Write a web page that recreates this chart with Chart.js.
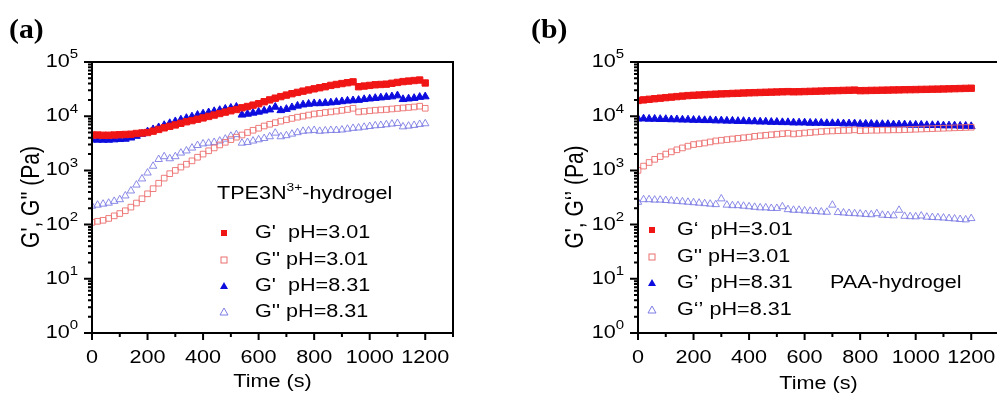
<!DOCTYPE html>
<html lang="en">
<head>
  <meta charset="UTF-8">
  <title>G', G'' vs time</title>
  <script src="https://cdn.jsdelivr.net/npm/chart.js"></script>
  <style>
    body { margin: 0; background: #fff; overflow: hidden; width: 997px; height: 396px; position: relative; }
    .panel { position: absolute; top: 0; height: 396px; }
  </style>
</head>
<body>

<div class="panel" style="left:0;width:470px"><canvas id="chartA"></canvas></div>
<div class="panel" style="left:530px;width:475px"><canvas id="chartB"></canvas></div>

<script>
// time axis (s), shared by every series
const time = [0, 20, 40, 60, 80, 100, 120, 140, 160, 180, 200, 220, 240, 260, 280, 300, 320, 340, 360, 380,
  400, 420, 440, 460, 480, 500, 520, 540, 560, 580, 600, 620, 640, 660, 680, 700, 720, 740, 760, 780,
  800, 820, 840, 860, 880, 900, 920, 940, 960, 980, 1000, 1020, 1040, 1060, 1080, 1100, 1120, 1140, 1160, 1180, 1200];

// (a) TPE3N3+-hydrogel
const aG1_ph3 = [4500, 4500, 4450, 4450, 4500, 4550, 4600, 4650, 4800, 4900, 5000, 5300, 5700, 6100, 6500, 6900, 7400, 7900, 8300, 8800,
  9300, 9900, 10500, 11200, 11900, 12600, 13300, 14300, 15100, 16000, 17000, 18500, 20000, 21500, 23000, 24500, 26000, 27500, 29000, 30500,
  32000, 33500, 35000, 37000, 38500, 40000, 41500, 43000, 35000, 36000, 37000, 38000, 38500, 39000, 40500, 42000, 43500, 44500, 45500, 46500, 41000];
const aG2_ph3 = [110, 115, 120, 130, 145, 160, 180, 210, 250, 300, 370, 460, 580, 720, 870, 1000, 1150, 1300, 1500, 1750,
  2000, 2300, 2600, 2950, 3300, 3700, 4100, 4500, 5000, 5500, 6000, 6600, 7100, 7600, 8100, 8600, 9100, 9600, 10000, 10500,
  11000, 11300, 11700, 12000, 12400, 12800, 13300, 14000, 12000, 12300, 12600, 12900, 13100, 13300, 13600, 13900, 14200, 14500, 14800, 15300, 14000];
const aG1_ph8 = [3700, 3650, 3650, 3650, 3700, 3750, 3800, 4000, 4300, 4700, 5200, 5700, 6200, 6800, 7400, 8000, 8600, 9200, 9800, 10500,
  11100, 11700, 12300, 12900, 13600, 14200, 14800, 10600, 11000, 11500, 12000, 12600, 13200, 14800, 12800, 13500, 14500, 15500, 16300, 16800,
  17200, 17200, 17500, 17800, 18200, 18700, 19200, 19500, 19800, 20500, 21000, 21500, 22000, 22500, 23000, 24000, 20500, 21000, 21500, 22500, 23000];
const aG2_ph8 = [220, 230, 240, 250, 270, 290, 340, 420, 540, 700, 900, 1200, 1600, 1800, 1650, 1800, 2100, 2300, 2600, 2900,
  3100, 3200, 3300, 3500, 3800, 4300, 4600, 3200, 3300, 3500, 3700, 3900, 4200, 4900, 4200, 4400, 4700, 5000, 5300, 5400,
  5500, 5300, 5400, 5500, 5500, 5600, 5800, 6000, 6100, 6300, 6500, 6700, 6800, 7000, 7200, 7400, 6400, 6600, 6800, 7100, 7300];

// (b) PAA-hydrogel
const bG1_ph3 = [19500, 20000, 20500, 21000, 21500, 22000, 22500, 23000, 23500, 24000, 24300, 24600, 24900, 25200, 25500, 25800, 26000, 26300, 26500, 26800,
  27000, 27200, 27400, 27600, 27800, 28000, 28200, 28400, 28200, 28300, 28500, 28700, 28900, 29100, 29300, 29500, 29700, 29900, 30100, 30300,
  29600, 29700, 29900, 30000, 30200, 30300, 30500, 30600, 30800, 30900, 31000, 31200, 31300, 31500, 31600, 31800, 32000, 32200, 32400, 32600, 32800];
const bG2_ph3 = [1000, 1200, 1400, 1600, 1800, 2000, 2200, 2400, 2600, 2800, 3000, 3100, 3200, 3350, 3500, 3600, 3700, 3800, 3900, 4000,
  4100, 4250, 4350, 4450, 4550, 4650, 4750, 4850, 4700, 4800, 4900, 5000, 5100, 5200, 5300, 5350, 5400, 5450, 5500, 5600,
  5400, 5450, 5500, 5500, 5550, 5550, 5600, 5600, 5650, 5700, 5750, 5800, 5850, 5900, 5950, 6000, 6050, 6100, 6150, 6200, 6250];
const bG1_ph8 = [9000, 9000, 8900, 8900, 8800, 8800, 8700, 8700, 8600, 8600, 8500, 8500, 8400, 8400, 8300, 8300, 8200, 8200, 8100, 8100,
  8000, 8000, 7900, 7900, 7800, 7800, 7700, 7700, 7600, 7600, 7600, 7500, 7500, 7500, 7400, 7400, 7400, 7300, 7300, 7300,
  7200, 7200, 7200, 7100, 7100, 7100, 7000, 7000, 7000, 6900, 6900, 6900, 6800, 6800, 6800, 6700, 6700, 6700, 6600, 6600, 6500];
const bG2_ph8 = [260, 290, 290, 285, 285, 280, 275, 270, 265, 260, 255, 250, 245, 240, 235, 300, 230, 225, 225, 220,
  215, 210, 205, 205, 200, 200, 215, 190, 185, 185, 180, 178, 175, 172, 170, 230, 168, 165, 162, 160,
  158, 155, 153, 160, 150, 148, 146, 185, 143, 141, 140, 145, 138, 136, 135, 133, 130, 128, 125, 123, 130];

const xTicks = [0, 200, 400, 600, 800, 1000, 1200];
const yTicks = [1, 10, 100, 1000, 10000, 100000];

const RED = 'rgb(240,22,22)';
const RED_OPEN = 'rgb(236,110,110)';
const BLUE = 'rgb(12,12,222)';
const BLUE_OPEN = 'rgb(125,125,228)';

const SANS = '"Liberation Sans", Arial, sans-serif';
const SX = 1.2; // the figure is stretched horizontally

function pts(vals) {
  return time.map((t, i) => ({ x: t, y: vals[i] }));
}

function drawText(ctx, s, x, y, font, align, rotate, sx) {
  ctx.save();
  ctx.translate(x, y);
  ctx.scale(sx || SX, 1);
  if (rotate) ctx.rotate(-Math.PI / 2);
  ctx.font = font;
  ctx.textAlign = align || 'left';
  ctx.textBaseline = 'middle';
  ctx.fillStyle = '#000';
  ctx.fillText(s, 0, 0);
  ctx.restore();
}

// parts: [text, font, dy]
function drawRich(ctx, parts, x, y, align) {
  let total = 0;
  parts.forEach(p => { ctx.font = p[1]; total += ctx.measureText(p[0]).width * SX; });
  let cx = align === 'right' ? x - total : align === 'center' ? x - total / 2 : x;
  parts.forEach(p => {
    drawText(ctx, p[0], cx, y + p[2], p[1], 'left');
    ctx.font = p[1];
    cx += ctx.measureText(p[0]).width * SX;
  });
}

function drawSymbol(ctx, kind, color, x, y) {
  ctx.save();
  ctx.strokeStyle = color;
  ctx.fillStyle = color;
  ctx.lineWidth = 1;
  if (kind === 'sq') {
    ctx.fillRect(x - 3, y - 3, 6, 6);
  } else if (kind === 'osq') {
    ctx.strokeRect(x - 3, y - 3, 6, 6);
  } else {
    ctx.beginPath();
    ctx.moveTo(x, y - 4);
    ctx.lineTo(x + 4, y + 3);
    ctx.lineTo(x - 4, y + 3);
    ctx.closePath();
    if (kind === 'tri') ctx.fill(); else ctx.stroke();
  }
  ctx.restore();
}

function framePlugin(cfg) {
  return {
    id: 'frame',
    afterDraw(chart) {
      const ctx = chart.ctx;
      const a = chart.chartArea;
      const xs = chart.scales.x, ys = chart.scales.y;
      ctx.save();
      ctx.strokeStyle = '#000';
      ctx.lineWidth = 2;
      ctx.strokeRect(a.left, a.top, a.right - a.left, a.bottom - a.top);

      // x ticks (outward)
      ctx.beginPath();
      for (let v = 0; v <= 1300; v += 100) {
        const px = xs.getPixelForValue(v);
        const len = v % 200 === 0 ? 7 : 4;
        ctx.moveTo(px, a.bottom);
        ctx.lineTo(px, a.bottom + len);
      }
      // y ticks (outward), log minor ticks
      for (let d = 1; d < 100000; d *= 10) {
        for (let m = 2; m <= 9; m++) {
          const py = ys.getPixelForValue(m * d);
          ctx.moveTo(a.left, py);
          ctx.lineTo(a.left - 4, py);
        }
      }
      yTicks.forEach(v => {
        const py = ys.getPixelForValue(v);
        ctx.moveTo(a.left, py);
        ctx.lineTo(a.left - 8, py);
      });
      ctx.stroke();

      const f18 = '18px ' + SANS;
      const f12 = '12.5px ' + SANS;
      xTicks.forEach(v => drawText(ctx, String(v), xs.getPixelForValue(v), 358, f18, 'center'));
      yTicks.forEach((v, i) => {
        drawRich(ctx, [['10', f18, 0], [String(i), f12, -7]], a.left - 14, ys.getPixelForValue(v), 'right');
      });

      drawText(ctx, 'Time (s)', (a.left + a.right) / 2, cfg.timeY, f18, 'center');
      drawText(ctx, cfg.yTitle, cfg.yTitleX, 197, '21px ' + SANS, 'center', true, 1.25);
      drawText(ctx, cfg.label, cfg.labelX, 31, 'bold 27px "Liberation Serif", "Times New Roman", serif', 'left', false, 1.1);

      cfg.legend.forEach((e, i) => {
        const y = cfg.legendY[i];
        drawSymbol(ctx, e[0], e[1], cfg.symX, y);
        drawText(ctx, e[2], cfg.textX, y, '18px ' + SANS, 'left');
      });
      drawRich(ctx, cfg.name, cfg.nameX, cfg.nameY, 'left');
      ctx.restore();
    }
  };
}

function makeChart(id, series, padding, cfg) {
  const styles = [
    { label: "G' pH=3.01", color: RED, style: 'rect', radius: 4.5, fill: true },
    { label: "G'' pH=3.01", color: RED_OPEN, style: 'rect', radius: 4, fill: false },
    { label: "G' pH=8.31", color: BLUE, style: 'triangle', radius: 4.5, fill: true },
    { label: "G'' pH=8.31", color: BLUE_OPEN, style: 'triangle', radius: 4.3, fill: false }
  ];
  return new Chart(document.getElementById(id), {
    type: 'line',
    data: {
      datasets: styles.map((s, i) => ({
        label: s.label,
        data: pts(series[i]),
        showLine: false,
        pointStyle: s.style,
        pointRadius: s.radius,
        pointBorderWidth: s.fill ? 1 : 0.9,
        pointBorderColor: s.color,
        pointBackgroundColor: s.fill ? s.color : 'rgba(0,0,0,0)'
      }))
    },
    options: {
      responsive: true,
      maintainAspectRatio: false,
      animation: false,
      layout: { padding: padding },
      scales: {
        x: { type: 'linear', display: false, min: 0, max: 1300 },
        y: { type: 'logarithmic', display: false, min: 1, max: 100000 }
      },
      plugins: { legend: { display: false }, tooltip: { enabled: false } }
    },
    plugins: [framePlugin(cfg)]
  });
}

const f18 = '18px ' + SANS;
const f11 = '11.5px ' + SANS;

makeChart('chartA', [aG1_ph3, aG2_ph3, aG1_ph8, aG2_ph8],
  { left: 92, top: 62, right: 17, bottom: 63 },
  {
    label: '(a)', labelX: 9, timeY: 382,
    yTitle: "G', G'' (Pa)", yTitleX: 32,
    symX: 224, textX: 255, legendY: [233, 260, 286, 312],
    legend: [['sq', RED, "G'  pH=3.01"], ['osq', RED_OPEN, "G'' pH=3.01"],
             ['tri', BLUE, "G'  pH=8.31"], ['otri', BLUE_OPEN, "G'' pH=8.31"]],
    name: [['TPE3N', f18, 0], ['3+', f11, -6], ['-hydrogel', f18, 0]], nameX: 217, nameY: 194
  });

makeChart('chartB', [bG1_ph3, bG2_ph3, bG1_ph8, bG2_ph8],
  { left: 108, top: 62, right: 6, bottom: 63 },
  {
    label: '(b)', labelX: 1, timeY: 384,
    yTitle: "G', G\u2018\u2019 (Pa)", yTitleX: 46,
    symX: 122, textX: 147, legendY: [230, 257, 283, 310],
    legend: [['sq', RED, "G\u2018  pH=3.01"], ['osq', RED_OPEN, "G'' pH=3.01"],
             ['tri', BLUE, "G\u2019  pH=8.31"], ['otri', BLUE_OPEN, "G\u2018\u2019 pH=8.31"]],
    name: [['PAA-hydrogel', f18, 0]], nameX: 300, nameY: 283
  });
</script>

</body>
</html>
